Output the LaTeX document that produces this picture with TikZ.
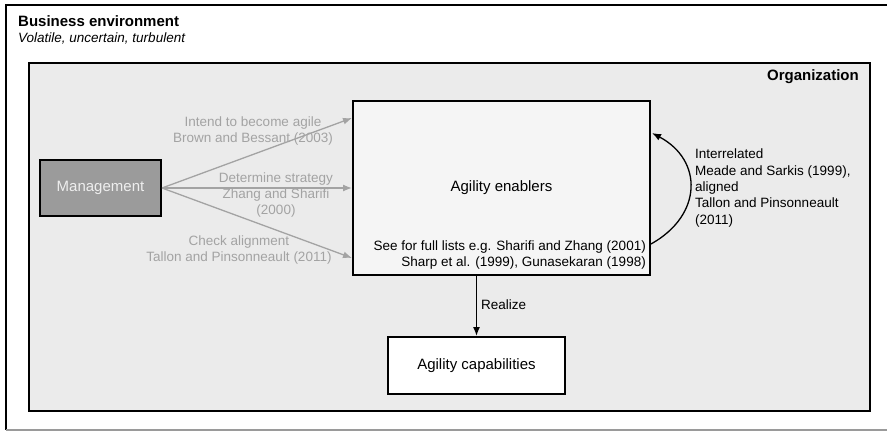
\documentclass[tikz,border=0pt]{standalone}
\usepackage{fontspec}
\setmainfont{Liberation Sans}
\usetikzlibrary{arrows.meta,calc}
\definecolor{orgfill}{HTML}{EBEBEB}
\definecolor{enabfill}{HTML}{F5F5F5}
\definecolor{mgmtfill}{HTML}{9B9B9B}
\definecolor{mgmttext}{HTML}{EEEEEE}
\definecolor{labgrey}{HTML}{A3A3A3}
\definecolor{framegrey}{HTML}{9A9A9A}
\begin{document}
\begin{tikzpicture}[x=1pt,y=-1pt,
  box/.style={draw=black,line width=2pt,inner sep=0pt,anchor=north west},
  big/.style={font=\fontsize{15}{17}\selectfont},
  small/.style={font=\fontsize{13.5}{16.3}\selectfont},
  garrow/.style={draw=labgrey,line width=1.3pt,-{Latex[length=9pt,width=7pt]}},
  barrow/.style={draw=black,line width=1.3pt,-{Latex[length=9pt,width=7pt]}},
  glabel/.style={small,text=labgrey,align=center,inner sep=0pt},
  blabel/.style={small,text=black,inner sep=0pt}]
\useasboundingbox (0,0) rectangle (887,431);
\fill[white] (0,0) rectangle (887,431);
% outer business environment frame
\draw[line width=2pt] (887,5) -- (6,5) -- (6,430);
\draw[line width=1.5pt,framegrey] (6,430) -- (887,430);
\node[anchor=west,inner sep=0pt,font=\fontsize{15}{17}\selectfont\bfseries] (bizt) at (18,21) {Business environment};
\node[anchor=west,inner sep=0pt,font=\fontsize{13.5}{16}\selectfont\itshape] (bizs) at (18,38) {Volatile, uncertain, turbulent};
% organization
\node[box,fill=orgfill,minimum width=841pt,minimum height=348pt] (org) at (28,62) {};
\node[anchor=east,inner sep=0pt,font=\fontsize{15}{17}\selectfont\bfseries] (orgt) at (859,77) {Organization};
% boxes
\node[box,fill=mgmtfill,minimum width=121pt,minimum height=56pt,big,text=mgmttext] (mgmt) at (39,159) {Management};
\node[box,fill=enabfill,minimum width=297pt,minimum height=174pt,big] (enab) at (352,100) {Agility enablers};
\node[box,fill=white,minimum width=177pt,minimum height=57pt,big] (cap) at (387,336) {Agility capabilities};
\node[blabel,anchor=east,align=right] (see) at (646,255) {See for full lists e.g. Sharifi and Zhang (2001)\\Sharp et al. (1999), Gunasekaran (1998)};
% grey arrows
\draw[garrow] (mgmt.east) -- ($(enab.north west)+(0,18)$);
\draw[garrow] (mgmt.east) -- (enab.west |- mgmt.east);
\draw[garrow] (mgmt.east) -- ($(enab.south west)+(0,-18)$);
\node[glabel] (l1) at (253,131) {Intend to become agile\\Brown and Bessant (2003)};
\node[glabel] (l2) at (276,195) {Determine strategy\\Zhang and Sharifi\\(2000)};
\node[glabel] (l3) at (239,250) {Check alignment\\Tallon and Pinsonneault (2011)};
% loop
\draw[barrow] ($(enab.south east)+(0,-32)$) .. controls (703,215) and (703,160) .. ($(enab.north east)+(1,33)$);
\node[blabel,anchor=west,align=left] (rl) at (695,188) {Interrelated\\Meade and Sarkis (1999),\\aligned\\Tallon and Pinsonneault\\(2011)};
% realize
\draw[barrow] (cap.north |- enab.south) -- (cap.north);
\node[blabel,anchor=west] (real) at (481,305) {Realize};
\end{tikzpicture}
\end{document}
